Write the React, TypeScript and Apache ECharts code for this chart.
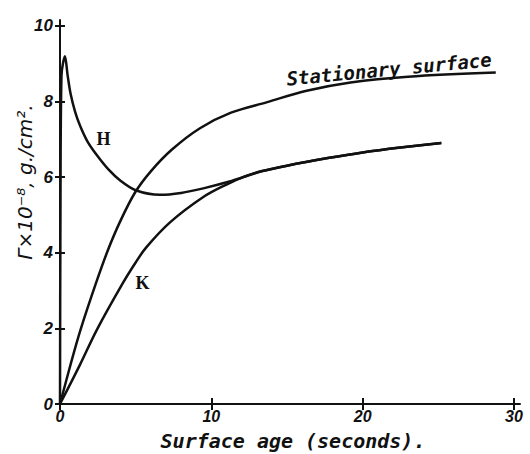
import React, { useEffect, useRef } from "react";
import * as echarts from "echarts";

const xTicks = [0, 10, 20, 30];
const yTicks = [0, 2, 4, 6, 8, 10];

const stationary: [number, number][] = [
  [0, 0], [0.75, 1.12], [1.37, 1.98], [2.4, 3.22], [3.17, 4.07], [3.97, 4.82],
  [4.96, 5.59], [6, 6.15], [7.38, 6.72], [9.25, 7.29], [11.3, 7.7], [13.7, 7.98],
  [16.3, 8.28], [19.2, 8.5], [23, 8.65], [28.8, 8.76],
];

const sharedTail: [number, number][] = [
  [13.3, 6.15], [15, 6.3], [17.7, 6.5], [20, 6.65], [22.5, 6.78], [25.2, 6.9],
];

const curveK: [number, number][] = [
  [0, 0], [1.3, 1.02], [2.46, 1.98], [4.16, 3.2], [5.0, 3.74], [5.7, 4.14],
  [7.27, 4.8], [9.47, 5.47], [11.0, 5.8], [12.3, 6.03], ...sharedTail,
];

const curveH: [number, number][] = [
  [0, 0], [0.03, 5.0], [0.1, 8.7], [0.33, 9.19], [0.5, 8.7], [0.7, 8.2],
  [1.0, 7.72], [1.32, 7.36], [1.8, 6.95], [2.43, 6.58], [3.2, 6.2], [4.0, 5.9],
  [5.0, 5.65], [6.6, 5.53], [8, 5.58], [9.47, 5.7], [11.2, 5.88], [12.3, 6.02],
  ...sharedTail,
];

const xName = "Surface age (seconds).";
const yName = "Γ×10⁻⁸, g./cm².";
const labelH = "H";
const labelK = "K";
const labelStat = "Stationary surface";

export default function App() {
  const ref = useRef<HTMLDivElement>(null);
  useEffect(() => {
    document.body.style.margin = "0";
    const chart = echarts.init(ref.current!, null, { renderer: "svg" });
    const tickFont = {
      fontFamily: "Liberation Sans",
      fontStyle: "italic" as const,
      fontWeight: "bold" as const,
      fontSize: 16,
      color: "#111",
    };
    const lineStyle = { color: "#111", width: 2.5 };
    const tickStyle = { color: "#111", width: 2 };
    const baseX = {
      type: "value" as const,
      min: 0,
      max: 30.4,
      interval: 10,
      splitLine: { show: false },
    };
    const baseY = {
      type: "value" as const,
      min: 0,
      max: 10.15,
      interval: 2,
      splitLine: { show: false },
    };
    chart.setOption({
      animation: false,
      backgroundColor: "#fff",
      grid: { left: 60, right: 10, top: 20, bottom: 50 },
      xAxis: [
        {
          ...baseX,
          axisLine: { show: true, lineStyle: { color: "#111", width: 2 } },
          axisTick: { show: true, length: 6, customValues: xTicks, lineStyle: tickStyle },
          axisLabel: { ...tickFont, customValues: xTicks, margin: 4 },
        },
        {
          ...baseX,
          position: "bottom",
          axisLine: { show: false },
          axisTick: { show: true, inside: true, length: 6, customValues: xTicks, lineStyle: tickStyle },
          axisLabel: { show: false },
        },
      ],
      yAxis: [
        {
          ...baseY,
          axisLine: { show: true, lineStyle: { color: "#111", width: 2 } },
          axisTick: { show: true, length: 5, customValues: yTicks, lineStyle: tickStyle },
          axisLabel: { ...tickFont, fontSize: 17, customValues: yTicks, margin: 7 },
        },
        {
          ...baseY,
          position: "left",
          axisLine: { show: false },
          axisTick: { show: true, inside: true, length: 5, customValues: yTicks, lineStyle: tickStyle },
          axisLabel: { show: false },
        },
      ],
      series: [
        { type: "line", data: stationary, smooth: 0.35, showSymbol: false, lineStyle },
        { type: "line", data: curveK, smooth: 0.35, showSymbol: false, lineStyle },
        { type: "line", data: curveH, smooth: 0.3, showSymbol: false, lineStyle },
      ],
      graphic: [
        {
          type: "text", x: 293, y: 441,
          style: { text: xName, font: "italic bold 20px 'DejaVu Sans Mono'", fill: "#111", textAlign: "center", textVerticalAlign: "middle" },
        },
        {
          type: "text", x: 25, y: 182, rotation: Math.PI / 2,
          style: { text: yName, font: "italic 20px 'DejaVu Sans'", fill: "#111", textAlign: "center", textVerticalAlign: "middle" },
        },
        {
          type: "text", x: 103.5, y: 138.5,
          style: { text: labelH, font: "bold 18px 'Liberation Serif'", fill: "#111", textAlign: "center", textVerticalAlign: "middle" },
        },
        {
          type: "text", x: 142.5, y: 282.5,
          style: { text: labelK, font: "bold 18px 'Liberation Serif'", fill: "#111", textAlign: "center", textVerticalAlign: "middle" },
        },
        {
          type: "text", x: 389, y: 69, rotation: 0.094,
          style: { text: labelStat, font: "italic bold 19px 'DejaVu Sans Mono'", fill: "#111", textAlign: "center", textVerticalAlign: "middle" },
        },
      ],
    });
    return () => chart.dispose();
  }, []);
  return <div ref={ref} style={{ width: 530, height: 454 }} />;
}
